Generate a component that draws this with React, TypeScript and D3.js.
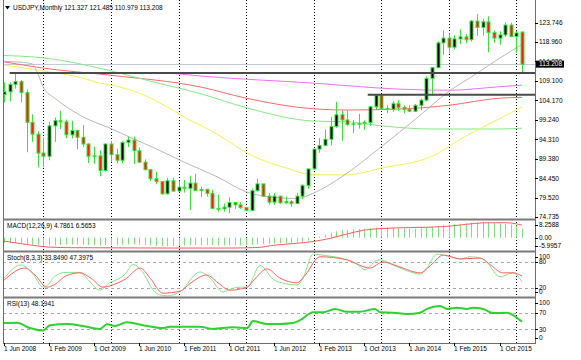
import React from "react";
import * as d3 from "d3";

// ---------- DATA (monthly bars, index 0 = Jun 2008 ... 92 = Feb 2016) ----------
const opens = [
  105.5, 106.2, 108.1, 108.8, 106.0, 98.5, 95.5,
  90.7, 89.9, 97.6, 98.9, 98.6, 95.3, 96.4, 94.7, 93.0, 89.9, 90.0, 86.3,
  93.0, 90.3, 88.9, 93.4, 94.0, 91.3, 88.4, 86.5, 84.2, 83.5, 80.4, 83.7,
  81.1, 82.1, 81.8, 83.1, 81.2, 81.5, 80.5, 76.7, 76.6, 77.0, 78.2, 77.6,
  76.9, 76.2, 81.2, 82.9, 79.8, 78.3, 79.8, 78.1, 78.4, 77.9, 79.8, 82.5,
  86.7, 91.7, 92.6, 94.2, 97.4, 100.4, 99.1, 97.9, 98.1, 98.2, 98.4, 102.4,
  105.3, 102.0, 101.8, 103.2, 102.2, 101.8, 101.3, 102.8, 104.1, 109.6, 112.3, 118.6,
  119.8, 117.5, 119.6, 120.1, 119.4, 124.1, 122.5, 123.9, 121.2, 119.8, 120.6, 123.1,
  120.2, 121.327,
];
const highs = [
  108.6, 108.6, 110.7, 109.2, 106.8, 100.5, 96.2,
  94.6, 98.6, 99.7, 101.4, 99.2, 98.9, 96.6, 97.8, 93.2, 92.3, 91.4, 93.1,
  93.8, 91.8, 93.7, 94.9, 94.9, 92.1, 89.1, 86.6, 86.0, 83.6, 84.4, 84.5,
  83.7, 83.9, 85.0, 85.5, 82.2, 81.7, 81.4, 80.2, 77.9, 79.5, 78.3, 78.3,
  77.1, 81.7, 84.2, 82.9, 80.6, 80.6, 79.9, 79.7, 78.8, 80.7, 82.8, 86.7,
  91.8, 94.5, 96.7, 99.9, 103.7, 101.5, 101.5, 99.1, 100.6, 99.0, 102.6, 105.4,
  105.4, 102.8, 103.8, 104.1, 102.8, 102.8, 103.1, 104.5, 110.1, 112.5, 119.0, 121.8,
  121.0, 120.5, 122.0, 120.8, 124.4, 125.9, 124.6, 125.3, 121.7, 121.5, 123.8, 123.7,
  121.7, 121.485,
];
const lows = [
  103.5, 103.8, 107.0, 103.5, 90.9, 93.5, 87.1,
  87.1, 88.9, 93.5, 96.8, 94.5, 94.4, 91.7, 92.3, 88.2, 88.0, 84.8, 86.0,
  88.5, 88.1, 88.1, 92.2, 87.9, 88.2, 86.3, 83.6, 82.8, 80.2, 80.2, 80.9,
  80.8, 80.7, 76.3, 81.2, 79.6, 79.7, 76.6, 75.9, 75.9, 75.5, 76.6, 76.6,
  76.0, 76.1, 80.9, 79.6, 77.7, 77.6, 77.9, 77.9, 77.1, 77.8, 79.0, 81.7,
  86.6, 90.8, 92.5, 92.6, 97.1, 93.8, 97.6, 95.8, 96.9, 96.6, 97.6, 101.6,
  101.8, 100.8, 101.2, 101.4, 100.8, 101.1, 101.1, 101.5, 103.8, 105.2, 112.3, 115.6,
  115.9, 116.9, 118.3, 118.5, 118.9, 120.4, 120.4, 116.2, 118.6, 118.1, 120.1, 120.0,
  116.0, 110.979,
];
const closes = [
  106.2, 108.1, 108.8, 106.0, 98.5, 95.5, 90.7,
  89.9, 97.6, 98.9, 98.6, 95.3, 96.4, 94.7, 93.0, 89.9, 90.0, 86.3, 93.0,
  90.3, 88.9, 93.4, 94.0, 91.3, 88.4, 86.5, 84.2, 83.5, 80.4, 83.7, 81.1,
  82.1, 81.8, 83.1, 81.2, 81.5, 80.5, 76.7, 76.6, 77.0, 78.2, 77.6, 76.9,
  76.2, 81.2, 82.9, 79.8, 78.3, 79.8, 78.1, 78.4, 77.9, 79.8, 82.5, 86.7,
  91.7, 92.6, 94.2, 97.4, 100.4, 99.1, 97.9, 98.1, 98.2, 98.4, 102.4, 105.3,
  102.0, 101.8, 103.2, 102.2, 101.8, 101.3, 102.8, 104.1, 109.6, 112.3, 118.6, 119.8,
  117.5, 119.6, 120.1, 119.4, 124.1, 122.5, 123.9, 121.2, 119.8, 120.6, 123.1, 120.2,
  121.1, 113.208,
];

// moving averages: [bar index, price]
const maGray: [number, number][] = [
  [0, 113.9], [3, 113.7], [5, 113.3], [6, 110.8], [7, 107.3], [9, 104.6], [11, 102.5],
  [14, 99.9], [19, 96.9], [23, 94.3], [27, 91.8], [32, 88.4], [38, 84.6], [43, 80.9],
  [48, 79.5], [52, 79.2], [55, 80.6], [60, 84.7], [67, 92.3], [73, 99.2], [79, 106.3],
  [84, 110.9], [88, 114.7], [92, 118.2],
];
const maYellow: [number, number][] = [
  [0, 113.0], [7, 111.5], [14, 109.7], [17, 108.4], [19, 107.9], [23, 106.4], [25, 105.3],
  [30, 101.5], [32.5, 99.4], [35, 97.7], [38.4, 95.0], [44, 90.1], [50, 87.0], [55, 85.2],
  [61, 85.2], [67, 86.9], [76, 89.9], [82, 95.0], [88, 99.4], [90, 100.9], [92, 102.4],
];
const maGreen: [number, number][] = [
  [0, 115.4], [7, 114.8], [19, 111.5], [26, 108.9], [35, 105.7], [43, 102.2], [55, 98.8],
  [61, 98.6], [67, 97.6], [76, 96.8], [88, 96.8], [92, 97.0],
];
const maRed: [number, number][] = [
  [0, 113.8], [7, 112.2], [19, 110.4], [35, 107.4], [43, 104.6], [55, 101.9], [61, 101.6],
  [71, 101.9], [79, 102.8], [88, 104.6], [92, 104.8],
];
const maMagenta: [number, number][] = [
  [29, 111.0], [35, 110.2], [55, 108.4], [70, 106.9], [79, 106.6], [88, 107.5], [92, 107.9],
];

// horizontal levels
const currentPrice = 113.208;
const supportLevels: { price: number; from: number }[] = [
  { price: 111.0, from: 1 },
  { price: 105.44, from: 64.6 },
];

// MACD(12,26,9): main (histogram) per bar, signal read as points
const macdMain = [
  -2.8, -2.9, -2.9, -3.0, -3.4, -3.7, -4.0,
  -4.3, -4.2, -4.0, -3.8, -3.8, -3.7, -3.7, -3.8, -3.9, -4.0, -4.2, -4.0,
  -4.0, -4.0, -3.8, -3.6, -3.6, -3.7, -3.9, -4.1, -4.3, -4.5, -4.4, -4.4,
  -4.3, -4.2, -4.0, -3.9, -3.9, -3.9, -4.0, -4.1, -4.2, -4.1, -4.1, -4.1,
  -4.1, -3.8, -3.5, -3.4, -3.3, -3.2, -3.1, -3.0, -2.9, -2.7, -2.3, -1.6,
  -0.5, 0.6, 1.5, 2.5, 3.4, 3.9, 4.2, 4.4, 4.6, 4.7, 5.0, 5.4,
  5.3, 5.2, 5.1, 5.0, 4.9, 4.8, 4.8, 4.9, 5.2, 5.6, 6.1, 6.6,
  6.8, 7.1, 7.4, 7.6, 7.9, 8.1, 8.26, 8.1, 7.8, 7.5, 7.3, 6.9,
  6.4, 4.79,
];
const macdSignal: [number, number][] = [
  [0, -1.8], [4, -3.6], [8, -5.0], [12, -5.3], [20, -5.4], [30, -5.5], [40, -5.5],
  [45, -5.2], [48, -4.0], [52, -3.0], [55, -2.0], [58, -0.3], [61, 2.0], [64, 4.0],
  [67, 4.8], [72, 5.3], [78, 5.8], [82, 7.0], [85, 7.8], [89, 7.9], [91, 7.3], [92, 6.57],
];

// Stochastic(8,3,3)
const stochMain: [number, number][] = [
  [0, 42], [3, 73], [5, 55], [7, 22], [8, 30], [9, 47], [11, 56], [13.5, 56], [15, 38],
  [17, 15], [18.8, 32], [20.6, 43], [21.5, 52], [22.9, 74], [24.7, 55], [26.5, 15],
  [27.7, 4], [29, 2], [31.3, 12], [34.8, 57], [36.6, 43], [38.9, 11], [40.5, 19],
  [42, 22], [43.2, 22], [45.5, 72], [47.8, 40], [50, 30], [52, 27], [53, 40],
  [54.9, 98], [57, 95], [60.9, 85], [63, 72], [64.1, 62], [66, 82], [66.8, 85],
  [69.1, 73], [72, 58], [73.9, 52], [75, 65], [76.9, 98], [78.7, 94], [81, 87],
  [82.8, 92], [85.1, 87], [88.1, 46], [90.4, 55], [92, 33.849],
];
const stochSignal: [number, number][] = [
  [0, 38], [3.7, 66], [5.5, 50], [7.6, 22], [9, 28], [11, 48], [13.5, 55], [15.5, 42],
  [17.6, 22], [19.5, 28], [21.5, 40], [24.2, 66], [26, 42], [28.2, 8], [31.3, 13],
  [33, 30], [36, 50], [38, 32], [40.1, 15], [43.2, 22], [44.5, 40], [46.7, 64], [49, 43],
  [52, 32], [53.5, 50], [56.1, 92], [60.9, 85], [65, 66], [67.3, 80], [70, 70],
  [73.9, 55], [76, 75], [78, 96], [81, 87], [84.5, 89], [86.5, 72], [88.6, 55],
  [90.4, 55], [92, 47.3975],
];

// RSI(13)
const rsi: [number, number][] = [
  [0, 45], [2.3, 46], [4.6, 33], [6.9, 27], [8.2, 40], [11.2, 43], [14, 38], [17, 31],
  [18.3, 42], [19.7, 38], [21.8, 47], [24.7, 40], [28.2, 33], [29.5, 36], [31.3, 36],
  [34.8, 36], [37.1, 31], [40.7, 35], [43.2, 33], [44.2, 50], [46.7, 43], [49, 43],
  [51.3, 45], [52.6, 52], [54.9, 71], [56.7, 71], [58.8, 79], [60.9, 72], [63.2, 72],
  [65.9, 79], [66.8, 71], [69.1, 70], [71.6, 67], [73.9, 70], [75.1, 79], [77.4, 86],
  [78.7, 79], [80.4, 82], [82.2, 79], [83.3, 82], [85.1, 79], [86.8, 69], [89.3, 70],
  [90.4, 64], [92, 48.1941],
];

// axes
const timeLabels = [
  "1 Jun 2008", "1 Feb 2009", "1 Oct 2009", "1 Jun 2010", "1 Feb 2011", "1 Oct 2011",
  "1 Jun 2012", "1 Feb 2013", "1 Oct 2013", "1 Jun 2014", "1 Feb 2015", "1 Oct 2015",
];
const timeLabelBars = [0, 8, 16, 24, 32, 40, 48, 56, 64, 72, 80, 88];
const yearGridBars = [7, 19, 31, 43, 55, 67, 79, 91];
const priceTicks = [74.735, 79.52, 84.45, 89.38, 94.31, 99.24, 104.17, 109.1, 114.03, 118.96, 123.746];
const macdTicks = [8.2588, 0, -5.9957];
const macdTickLabels = ["8.2588", "0.00", "-5.9957"];
const stochTicks = [100, 80, 20, 0];
const stochLevels = [80, 20];
const rsiTicks = [100, 70, 30, 0];
const rsiLevels = [70, 30];

const titleText = "USDJPY,Monthly  121.327 121.485 110.979 113.208";
const macdTitle = "MACD(12,26,9) 4.7861 6.5653";
const stochTitle = "Stoch(8,3,3) 33.8490 47.3975";
const rsiTitle = "RSI(13) 48.1941";

// ---------- LAYOUT ----------
const W = 581;
const H = 360;
const L = 3;
const R = 535;
const MAIN = { top: 0, bottom: 218.5 };
const MACDP = { top: 220.5, bottom: 251 };
const STOP = { top: 252.5, bottom: 297 };
const RSIP = { top: 298.5, bottom: 343 };

const WICK = "#33e633";
const FONT = "'Liberation Sans', Arial, Helvetica, sans-serif";

export default function App() {
  const x = d3.scaleLinear().domain([0, 91]).range([4, 516.4]);
  const px = (i: number) => Math.round(x(i)) + 0.5;
  const yP = d3.scaleLinear().domain([76.3, 125.9]).range([210, 14]);
  const yM = d3.scaleLinear().domain([-5.9957, 8.2588]).range([249, 222]);
  const yS = d3.scaleLinear().domain([0, 100]).range([296.7, 253.3]);
  const yR = d3.scaleLinear().domain([0, 100]).range([341.8, 300.2]);

  const lineFor = (ys: d3.ScaleLinear<number, number>) =>
    d3
      .line<[number, number]>()
      .x((d) => x(d[0]))
      .y((d) => ys(d[1]))
      .curve(d3.curveMonotoneX);

  const priceLine = lineFor(yP);
  const clampLbl = (v: number, p: { top: number; bottom: number }) =>
    Math.min(Math.max(v, p.top + 4.5), p.bottom - 5);

  const axisLabel = (yy: number, txt: string, key: string) => (
    <g key={key}>
      <line x1={R} x2={R + 3} y1={Math.round(yy) + 0.5} y2={Math.round(yy) + 0.5} stroke="#000" />
      <text x={R + 4} y={yy} dy="0.35em" fill="#000">
        {txt}
      </text>
    </g>
  );

  return (
    <svg
      width={W}
      height={H}
      style={{ position: "absolute", left: 0, top: 0, display: "block" }}
      fontFamily={FONT}
      fontSize={6.5}
    >
      <defs>
        <clipPath id="cMain">
          <rect x={L} y={MAIN.top} width={R - L} height={MAIN.bottom - MAIN.top} />
        </clipPath>
        <clipPath id="cMacd">
          <rect x={L} y={MACDP.top} width={R - L} height={MACDP.bottom - MACDP.top} />
        </clipPath>
        <clipPath id="cSto">
          <rect x={L} y={STOP.top} width={R - L} height={STOP.bottom - STOP.top} />
        </clipPath>
        <clipPath id="cRsi">
          <rect x={L} y={RSIP.top} width={R - L} height={RSIP.bottom - RSIP.top} />
        </clipPath>
      </defs>
      <rect x={0} y={0} width={W} height={H} fill="#fff" />

      {/* vertical yearly grid */}
      {yearGridBars.map((b) => (
        <line
          key={"g" + b}
          x1={px(b)}
          x2={px(b)}
          y1={0}
          y2={RSIP.bottom}
          stroke="#000"
          strokeDasharray="1,2"
          strokeWidth={1}
        />
      ))}

      {/* MAIN PANEL */}
      <g clipPath="url(#cMain)">
        <line
          x1={L}
          x2={R}
          y1={Math.round(yP(currentPrice)) + 0.5}
          y2={Math.round(yP(currentPrice)) + 0.5}
          stroke="#c3cad6"
        />
        <path d={priceLine(maMagenta) || ""} fill="none" stroke="#f46ef4" strokeWidth={1} />
        <path d={priceLine(maRed) || ""} fill="none" stroke="#f56a6a" strokeWidth={1} />
        <path d={priceLine(maGreen) || ""} fill="none" stroke="#86e886" strokeWidth={1} />
        <path d={priceLine(maYellow) || ""} fill="none" stroke="#f3ef55" strokeWidth={1} />
        <path d={priceLine(maGray) || ""} fill="none" stroke="#b8b8b8" strokeWidth={1} />

        {closes.map((c, i) => {
          const o = opens[i];
          const cx = px(i);
          const up = c >= o;
          const top = yP(Math.max(o, c));
          const bot = yP(Math.min(o, c));
          return (
            <g key={"c" + i}>
              <line x1={cx} x2={cx} y1={yP(highs[i])} y2={yP(lows[i])} stroke={WICK} />
              <rect
                x={cx - 1.5}
                y={top}
                width={3}
                height={Math.max(bot - top, 0.8)}
                fill={up ? "#000" : "#ff1a1a"}
                stroke={WICK}
                strokeWidth={1}
              />
            </g>
          );
        })}

        {supportLevels.map((s, k) => (
          <line
            key={"s" + k}
            x1={x(s.from)}
            x2={R}
            y1={yP(s.price)}
            y2={yP(s.price)}
            stroke="#4a4a4a"
            strokeWidth={2}
          />
        ))}
      </g>

      {/* MACD PANEL */}
      <g clipPath="url(#cMacd)">
        {macdMain.map((v, i) => (
          <line key={"m" + i} x1={px(i)} x2={px(i)} y1={yM(0)} y2={yM(v)} stroke="#7ddf7d" strokeWidth={1} />
        ))}
        <path d={lineFor(yM)(macdSignal) || ""} fill="none" stroke="#ff5a5a" strokeWidth={1} />
      </g>

      {/* STOCH PANEL */}
      <g clipPath="url(#cSto)">
        {stochLevels.map((v) => (
          <line
            key={"sl" + v}
            x1={L}
            x2={R}
            y1={Math.round(yS(v)) + 0.5}
            y2={Math.round(yS(v)) + 0.5}
            stroke="#a8a8a8"
            strokeDasharray="3,3"
          />
        ))}
        <path d={lineFor(yS)(stochMain) || ""} fill="none" stroke="#86e486" strokeWidth={1} />
        <path d={lineFor(yS)(stochSignal) || ""} fill="none" stroke="#ff5f5f" strokeWidth={1} />
      </g>

      {/* RSI PANEL */}
      <g clipPath="url(#cRsi)">
        {rsiLevels.map((v) => (
          <line
            key={"rl" + v}
            x1={L}
            x2={R}
            y1={Math.round(yR(v)) + 0.5}
            y2={Math.round(yR(v)) + 0.5}
            stroke="#a8a8a8"
            strokeDasharray="3,3"
          />
        ))}
        <path d={lineFor(yR)(rsi) || ""} fill="none" stroke="#2fd12f" strokeWidth={2} />
      </g>

      {/* borders and separators */}
      <line x1={L + 0.5} x2={L + 0.5} y1={0} y2={RSIP.bottom} stroke="#6e6e6e" />
      <line x1={R + 0.5} x2={R + 0.5} y1={0} y2={RSIP.bottom} stroke="#6e6e6e" />
      {[219.5, 251.5, 297.5].map((yy) => (
        <line key={"sep" + yy} x1={L} x2={R + 1} y1={yy} y2={yy} stroke="#7a7a7a" strokeWidth={2} />
      ))}
      <line x1={L} x2={R + 1} y1={RSIP.bottom + 0.5} y2={RSIP.bottom + 0.5} stroke="#6e6e6e" />

      {/* titles */}
      <path d="M5,6 L10,6 L7.5,9.5 Z" fill="#000" />
      <text x={13} y={8} dy="0.35em" fill="#000">
        {titleText}
      </text>
      <text x={7} y={225.5} dy="0.35em" fill="#000">
        {macdTitle}
      </text>
      <text x={7} y={258} dy="0.35em" fill="#000">
        {stochTitle}
      </text>
      <text x={7} y={303.5} dy="0.35em" fill="#000">
        {rsiTitle}
      </text>

      {/* right axes */}
      {priceTicks.map((v) => axisLabel(yP(v) + 0.5, v.toFixed(3), "p" + v))}
      <rect x={R + 1} y={yP(currentPrice) - 3.5} width={28} height={7} fill="#000" />
      <text x={R + 4} y={yP(currentPrice)} dy="0.35em" fill="#fff">
        {currentPrice.toFixed(3)}
      </text>
      {macdTicks.map((v, k) => axisLabel(clampLbl(yM(v), MACDP), macdTickLabels[k], "mt" + k))}
      {stochTicks.map((v) => axisLabel(clampLbl(yS(v), STOP), String(v), "st" + v))}
      {rsiTicks.map((v) => axisLabel(clampLbl(yR(v), RSIP), String(v), "rt" + v))}

      {/* time axis */}
      {timeLabelBars.map((b, k) => (
        <g key={"t" + b}>
          <line x1={px(b)} x2={px(b)} y1={RSIP.bottom} y2={RSIP.bottom + 3} stroke="#000" />
          <text x={px(b) - 0.5} y={348.5} dy="0.35em" fill="#000">
            {timeLabels[k]}
          </text>
        </g>
      ))}
    </svg>
  );
}
